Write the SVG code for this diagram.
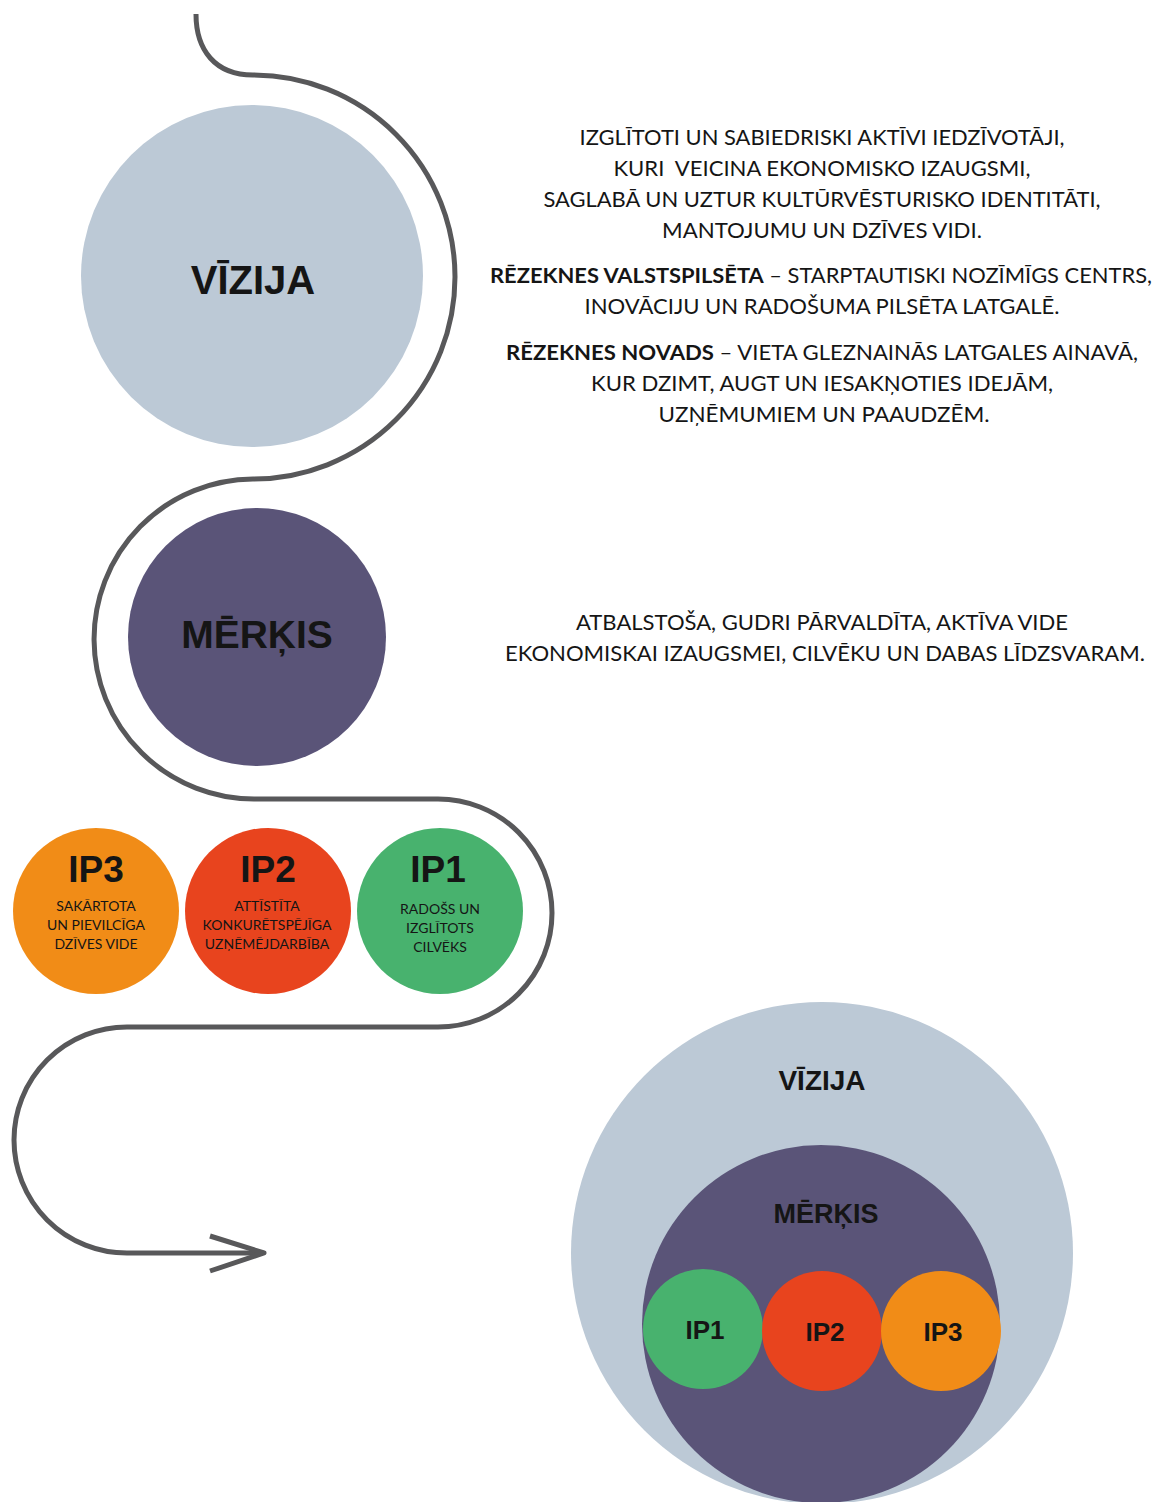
<svg xmlns="http://www.w3.org/2000/svg" width="1158" height="1502" viewBox="0 0 1158 1502">
<style>
.vz{fill:#BCC9D6}
.mk{fill:#5A5478}
.o{fill:#F18C17}
.r{fill:#E8441E}
.g{fill:#48B26E}
.lbl{font-family:"Liberation Sans",Arial,sans-serif;font-weight:bold;fill:#151515;text-anchor:middle}
.body{font-family:Lato,"Open Sans",sans-serif;font-size:21.5px;fill:#151515;text-anchor:middle}
.body .b{font-weight:bold}
.sub{font-family:Lato,"Open Sans",sans-serif;font-size:14px;fill:#151515;text-anchor:middle}
.path{fill:none;stroke:#58585A;stroke-width:5;stroke-linecap:butt;stroke-linejoin:round}
</style>
<rect width="1158" height="1502" fill="#FFFFFF"/>
<g id="connectors">
<path class="path" d="M196,14 C196,50 215,75 253,75 A202,202 0 0 1 253,479 A160,160 0 0 0 255,799 L438,799 A114,114 0 0 1 438,1027 L127,1027 A113,113 0 0 0 127,1253 L262,1253"/>
<polyline class="path" points="210,1236 264,1253 210,1271"/>
</g>
<g id="vizija">
<circle class="vz" cx="252" cy="276" r="171"/>
<text class="lbl" x="253" y="294" font-size="40">VĪZIJA</text>
</g>
<g id="vizija-text">
<text class="body" x="822" y="145" textLength="485" lengthAdjust="spacingAndGlyphs">IZGLĪTOTI UN SABIEDRISKI AKTĪVI IEDZĪVOTĀJI,</text>
<text class="body" x="822" y="176" textLength="417" lengthAdjust="spacingAndGlyphs">KURI&#160; VEICINA EKONOMISKO IZAUGSMI,</text>
<text class="body" x="822" y="207" textLength="557" lengthAdjust="spacingAndGlyphs">SAGLABĀ UN UZTUR KULTŪRVĒSTURISKO IDENTITĀTI,</text>
<text class="body" x="822" y="238" textLength="320" lengthAdjust="spacingAndGlyphs">MANTOJUMU UN DZĪVES VIDI.</text>
<text class="body" x="821" y="283" textLength="662" lengthAdjust="spacingAndGlyphs"><tspan class="b">RĒZEKNES VALSTSPILSĒTA</tspan> – STARPTAUTISKI NOZĪMĪGS CENTRS,</text>
<text class="body" x="822" y="314" textLength="475" lengthAdjust="spacingAndGlyphs">INOVĀCIJU UN RADOŠUMA PILSĒTA LATGALĒ.</text>
<text class="body" x="822" y="360" textLength="632" lengthAdjust="spacingAndGlyphs"><tspan class="b">RĒZEKNES NOVADS</tspan> – VIETA GLEZNAINĀS LATGALES AINAVĀ,</text>
<text class="body" x="822" y="391" textLength="462" lengthAdjust="spacingAndGlyphs">KUR DZIMT, AUGT UN IESAKŅOTIES IDEJĀM,</text>
<text class="body" x="824" y="422" textLength="331" lengthAdjust="spacingAndGlyphs">UZŅĒMUMIEM UN PAAUDZĒM.</text>
</g>
<g id="merkis">
<circle class="mk" cx="257" cy="637" r="129"/>
<text class="lbl" x="257" y="648" font-size="39">MĒRĶIS</text>
</g>
<g id="merkis-text">
<text class="body" x="822" y="630" textLength="492" lengthAdjust="spacingAndGlyphs">ATBALSTOŠA, GUDRI PĀRVALDĪTA, AKTĪVA VIDE</text>
<text class="body" x="825" y="661" textLength="640" lengthAdjust="spacingAndGlyphs">EKONOMISKAI IZAUGSMEI, CILVĒKU UN DABAS LĪDZSVARAM.</text>
</g>
<g id="ip3">
<circle class="o" cx="96" cy="911" r="83"/>
<text class="lbl" x="96" y="882" font-size="37">IP3</text>
<text class="sub" x="96" y="911">SAKĀRTOTA</text>
<text class="sub" x="96" y="930">UN PIEVILCĪGA</text>
<text class="sub" x="96" y="949">DZĪVES VIDE</text>
</g>
<g id="ip2">
<circle class="r" cx="268" cy="911" r="83"/>
<text class="lbl" x="268" y="882" font-size="37">IP2</text>
<text class="sub" x="267" y="911">ATTĪSTĪTA</text>
<text class="sub" x="267" y="930">KONKURĒTSPĒJĪGA</text>
<text class="sub" x="267" y="949">UZŅĒMĒJDARBĪBA</text>
</g>
<g id="ip1">
<circle class="g" cx="440" cy="911" r="83"/>
<text class="lbl" x="438" y="882" font-size="37">IP1</text>
<text class="sub" x="440" y="914">RADOŠS UN</text>
<text class="sub" x="440" y="933">IZGLĪTOTS</text>
<text class="sub" x="440" y="952">CILVĒKS</text>
</g>
<g id="summary">
<g id="summary-vizija">
<circle class="vz" cx="822" cy="1253" r="251"/>
<text class="lbl" x="822" y="1090" font-size="28">VĪZIJA</text>
</g>
<g id="summary-merkis">
<circle class="mk" cx="821" cy="1324" r="179"/>
<text class="lbl" x="826" y="1223" font-size="27">MĒRĶIS</text>
</g>
<g id="summary-ip1">
<circle class="g" cx="703" cy="1329" r="60"/>
<text class="lbl" x="705" y="1339" font-size="26">IP1</text>
</g>
<g id="summary-ip2">
<circle class="r" cx="822" cy="1331" r="60"/>
<text class="lbl" x="825" y="1341" font-size="26">IP2</text>
</g>
<g id="summary-ip3">
<circle class="o" cx="941" cy="1331" r="60"/>
<text class="lbl" x="943" y="1341" font-size="26">IP3</text>
</g>
</g>
</svg>
